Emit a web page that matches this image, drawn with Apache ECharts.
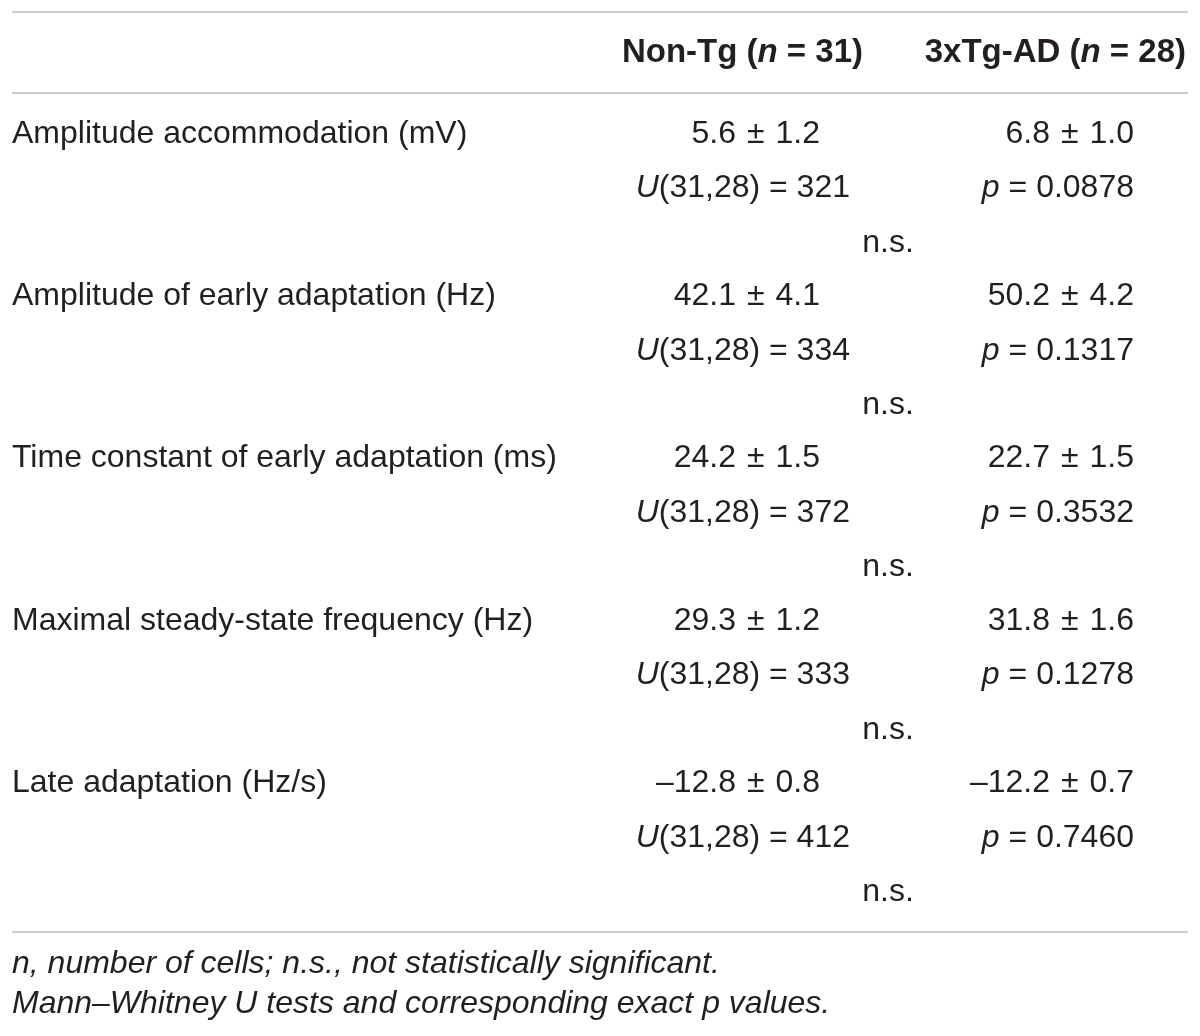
<!DOCTYPE html>
<html lang="en">
<head>
    <meta charset="UTF-8">
    <title>Non-Tg vs 3xTg-AD firing properties</title>
    <script src="https://cdn.jsdelivr.net/npm/echarts@6/dist/echarts.min.js"></script>
    <style>
        html, body { margin: 0; padding: 0; background: #fff; }
    </style>
</head>
<body>
<div id="main" style="width:1200px;height:1036px;"></div>
<script type="text/javascript">
    // table content
    var rowLabels = [
        'Amplitude accommodation (mV)',
        'Amplitude of early adaptation (Hz)',
        'Time constant of early adaptation (ms)',
        'Maximal steady-state frequency (Hz)',
        'Late adaptation (Hz/s)'
    ];
    var nonTgMean = [5.6, 42.1, 24.2, 29.3, -12.8];
    var nonTgSem = [1.2, 4.1, 1.5, 1.2, 0.8];
    var tgMean = [6.8, 50.2, 22.7, 31.8, -12.2];
    var tgSem = [1.0, 4.2, 1.5, 1.6, 0.7];
    var uValues = [321, 334, 372, 333, 412];
    var pValues = ['0.0878', '0.1317', '0.3532', '0.1278', '0.7460'];
    var significance = ['n.s.', 'n.s.', 'n.s.', 'n.s.', 'n.s.'];
    var groupNames = ['Non-Tg', '3xTg-AD'];
    var groupN = [31, 28];
    var footnotes = [
        '{i|n, number of cells; n.s., not statistically significant.}',
        '{i|Mann\u2013Whitney U tests and corresponding exact p values.}'
    ];

    var FONT = '"Liberation Sans", Arial, sans-serif';
    var INK = '#231f20';
    var RULE = '#cccccc';
    var FS = 32;

    function fmt(v) {
        var s = Math.abs(v).toFixed(1);
        return (v < 0 ? '\u2013' : '') + s;
    }

    function meanSem(m, s) {
        return '{r|' + fmt(m) + '}{pm|\u00b1}{r|' + s.toFixed(1) + '}';
    }

    function txt(x, y, text, align, size) {
        var fs = size || FS;
        return {
            type: 'text', silent: true,
            style: {
                x: x, y: y, text: text,
                align: align, verticalAlign: 'middle',
                fill: INK, fontSize: fs, fontFamily: FONT, fontWeight: 'normal',
                rich: {
                    r: { fill: INK, fontSize: fs, fontFamily: FONT },
                    pm: { fill: INK, fontSize: fs, fontFamily: FONT, padding: [0, 11, 0, 11] },
                    i: { fill: INK, fontSize: fs, fontFamily: FONT, fontStyle: 'italic' },
                    b: { fill: INK, fontSize: fs, fontFamily: FONT, fontWeight: 'bold' },
                    bi: { fill: INK, fontSize: fs, fontFamily: FONT, fontWeight: 'bold', fontStyle: 'italic' }
                }
            }
        };
    }

    function rule(y) {
        return {
            type: 'line', silent: true,
            shape: { x1: 12, y1: y, x2: 1188, y2: y },
            style: { stroke: RULE, lineWidth: 2 }
        };
    }

    var els = [];
    els.push(rule(12));
    els.push(rule(93));
    els.push(rule(932));

    // header
    var headRight = [863, 1186];
    for (var g = 0; g < groupNames.length; g++) {
        els.push(txt(headRight[g], 53, '{b|' + groupNames[g] + ' (}{bi|n}{b| = ' + groupN[g] + ')}', 'right', 33));
    }

    // body rows
    var rowTop = 134, rowStep = 162.3, subStep = 54.5;
    for (var i = 0; i < rowLabels.length; i++) {
        var y = rowTop + rowStep * i;
        els.push(txt(12, y, rowLabels[i], 'left'));
        els.push(txt(820, y, meanSem(nonTgMean[i], nonTgSem[i]), 'right'));
        els.push(txt(1134, y, meanSem(tgMean[i], tgSem[i]), 'right'));
        els.push(txt(850, y + subStep, '{i|U}{r|(' + groupN[0] + ',' + groupN[1] + ') = ' + uValues[i] + '}', 'right'));
        els.push(txt(1134, y + subStep, '{i|p}{r| = ' + pValues[i] + '}', 'right'));
        els.push(txt(888, y + 2 * subStep, significance[i], 'center'));
    }

    // footnotes
    els.push(txt(12, 964, footnotes[0], 'left', 32));
    els.push(txt(12, 1004, footnotes[1], 'left', 32));

    var myChart = echarts.init(document.getElementById('main'));
    myChart.setOption({
        backgroundColor: '#ffffff',
        animation: false,
        graphic: { elements: els }
    });
</script>
</body>
</html>
